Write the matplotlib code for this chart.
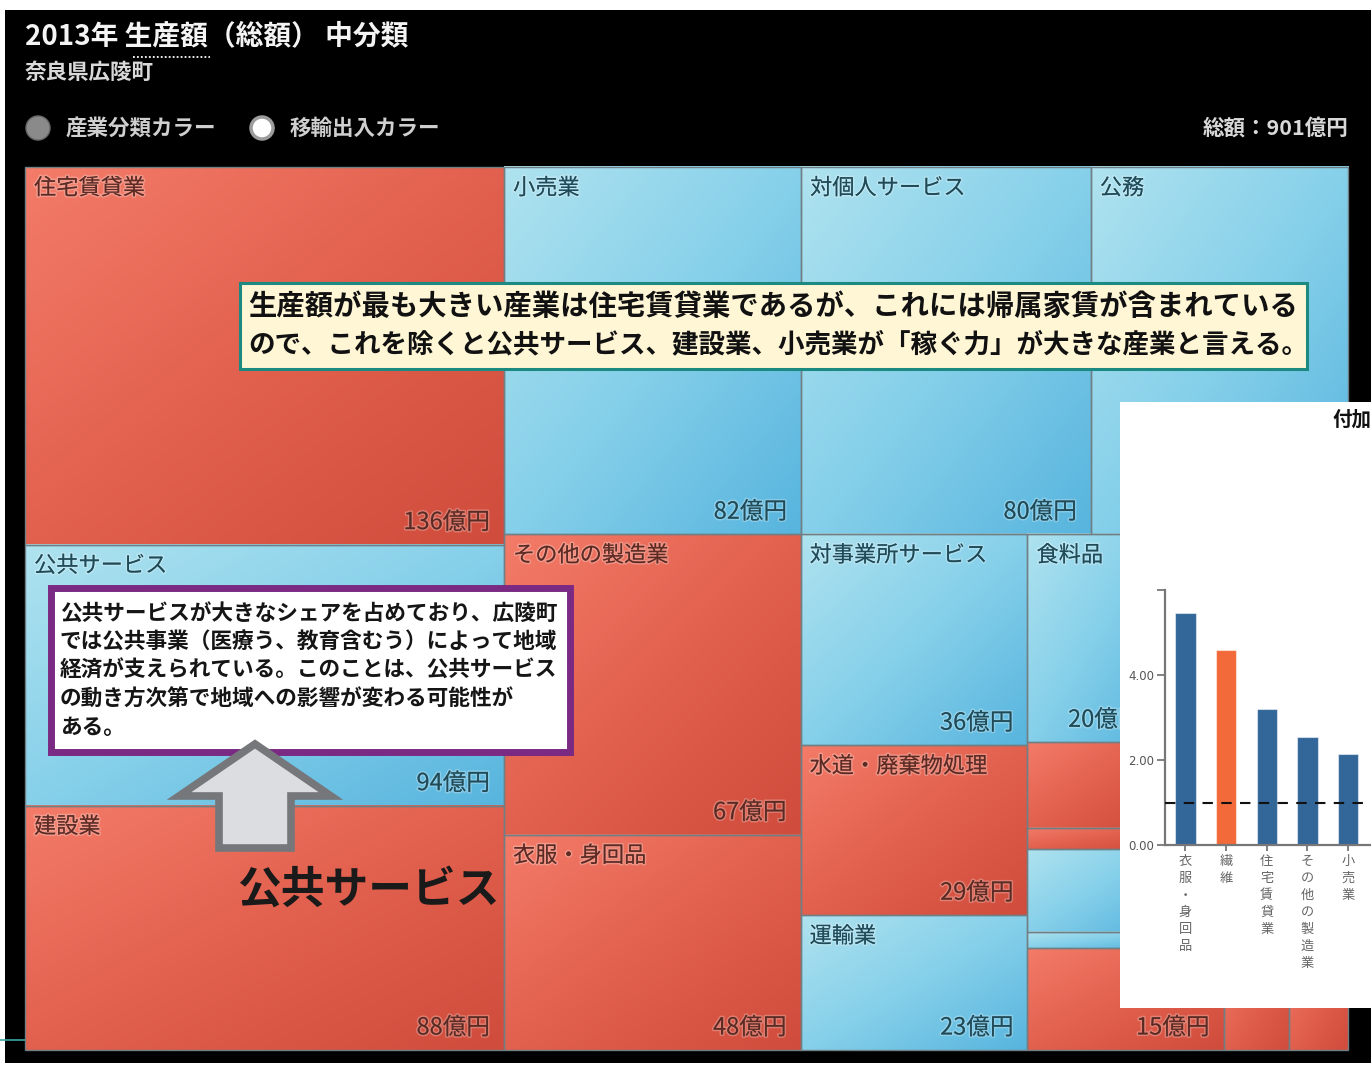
import numpy as np
import matplotlib
matplotlib.use("Agg")
import matplotlib.pyplot as plt
from matplotlib.patches import Rectangle, Polygon, Circle
from matplotlib.colors import LinearSegmentedColormap
import matplotlib.patheffects as pe

plt.rcParams['font.family'] = ['Noto Sans CJK JP', 'DejaVu Sans']

# ---------------------------------------------------------------
# 2013年 生産額（総額）中分類 — 奈良県広陵町（億円）, in strip order
# ---------------------------------------------------------------
industries = [
    '住宅賃貸業', '公共サービス', '建設業',
    '小売業', '対個人サービス', '公務',
    'その他の製造業', '衣服・身回品',
    '対事業所サービス', '水道・廃棄物処理', '運輸業',
    '金融・保険業', '電気業', '農業',
    '食料品', '卸売業', '石油・石炭製品', '情報通信業', '鉄鋼',
    '繊維', '不動産仲介業', 'パルプ・紙',
    '化学', 'プラスチック製品', 'ガス・熱供給業', '窯業・土石製品', '金属製品',
]
output_oku = [
    136, 94, 88,
    82, 80, 71,
    67, 48,
    36, 29, 23,
    15, 5, 4.5,
    20, 8.2, 2.1, 7.9, 1.6,
    13, 11, 9,
    8, 6, 5, 4, 4,
]
# 移輸出入の収支: 1 = 移輸出超過, -1 = 移輸入超過
trade_balance = [
    -1, 1, -1,
    1, 1, 1,
    -1, -1,
    1, -1, 1,
    -1, -1, -1,
    1, -1, -1, 1, 1,
    1, -1, 1,
    -1, 1, -1, -1, 1,
]
# treemap strips: (side of the remaining area, number of industries)
strip_plan = [('left', 3), ('top', 3), ('left', 2), ('left', 3),
              ('bottom', 3), ('left', 5), ('left', 3), ('left', 5)]
total_oku = 901

# 付加価値額 特化係数（上位業種）
spec_labels = ['衣服・身回品', '繊維', '住宅賃貸業', 'その他の製造業', '小売業']
spec_values = [5.45, 4.6, 3.2, 2.55, 2.15]
spec_highlight = [False, True, False, False, False]
spec_baseline = 1.0

NAME_MIN = 20  # industries below this size are shown without a name


def strip_layout(values, plan, x0, y0, x1, y1):
    """Cut the box into strips; each strip is split by its values."""
    rects = []
    i = 0
    remaining = float(sum(values))
    for side, n in plan:
        group = values[i:i + n]
        s = float(sum(group))
        frac = s / remaining
        if side == 'left':
            w = (x1 - x0) * frac
            yy = y0
            for v in group:
                h = (y1 - y0) * v / s
                rects.append((x0, yy, w, h))
                yy += h
            x0 += w
        else:
            h = (y1 - y0) * frac
            top = y0 if side == 'top' else y1 - h
            xx = x0
            for v in group:
                w = (x1 - x0) * v / s
                rects.append((xx, top, w, h))
                xx += w
            if side == 'top':
                y0 += h
            else:
                y1 -= h
        remaining -= s
        i += n
    return rects


fig = plt.figure(figsize=(13.71, 10.66), dpi=100, facecolor='white')
ax = fig.add_axes([0, 0, 1, 1])
ax.axis('off')

# dark panel
ax.add_patch(Rectangle((5, 10), 1366, 1053, facecolor='black', edgecolor='none', zorder=0))
ax.plot([0, 28], [1040, 1040], color='#3aa6a6', lw=1.2, zorder=0.5)

red_cmap = LinearSegmentedColormap.from_list('red_cell', ['#F37B68', '#E2604E', '#D04C3C'])
blue_cmap = LinearSegmentedColormap.from_list('blue_cell', ['#AEE2EF', '#86D0EA', '#58B5DE'])
grad = (np.linspace(0, 1, 40)[:, None] + np.linspace(0, 1, 40)[None, :]) / 2

rects = strip_layout(output_oku, strip_plan, 25, 167, 1348, 1050)
for name, val, bal, (x, y, w, h) in zip(industries, output_oku, trade_balance, rects):
    cmap = blue_cmap if bal > 0 else red_cmap
    ax.imshow(grad, extent=(x, x + w, y + h, y), cmap=cmap, vmin=0, vmax=1,
              interpolation='bilinear', aspect='auto', zorder=1)
    ax.add_patch(Rectangle((x, y), w, h, fill=False, edgecolor='#6f7f84',
                           lw=1.0, zorder=2))
    tcol = '#1f4a57' if bal > 0 else '#5c2a22'
    halo = [pe.withStroke(linewidth=2.2, foreground=(1, 1, 1, 0.25))]
    if val >= NAME_MIN:
        ax.text(x + 9, y + 21, name, fontsize=16, color=tcol, ha='left',
                va='center', zorder=3, path_effects=halo)
    if h >= 90 and w >= 90:
        vtxt = f'{val:g}億円'
        ax.text(x + w - 14, y + h - 22, vtxt, fontsize=17, color=tcol,
                ha='right', va='center', zorder=3, path_effects=halo)

# header
ax.text(25, 36, '2013年 生産額（総額） 中分類', fontsize=20, weight='bold',
        color='#f4f4f4', ha='left', va='center', zorder=5)
ax.plot([133, 210], [57, 57], color='white', lw=1.3, ls=(0, (1, 1.2)), zorder=5)
ax.text(25, 72, '奈良県広陵町', fontsize=15.5, weight='bold', color='#d9d9d9',
        ha='left', va='center', zorder=5)

# colour mode selector
ax.add_patch(Circle((38, 128), 12, facecolor='#8a8a8a', edgecolor='#6a6a6a', lw=1, zorder=5))
ax.text(66, 128, '産業分類カラー', fontsize=15.5, weight='bold', color='#cfcfcf',
        ha='left', va='center', zorder=5)
ax.add_patch(Circle((262, 128), 11, facecolor='white', edgecolor='#9c9c9c', lw=2.5, zorder=5))
ax.text(290, 128, '移輸出入カラー', fontsize=15.5, weight='bold', color='#cfcfcf',
        ha='left', va='center', zorder=5)
ax.text(1348, 128, f'総額：{total_oku}億円', fontsize=15.5, weight='bold',
        color='#d8d8d8', ha='right', va='center', zorder=5)

# callout: largest industry
ax.add_patch(Rectangle((239.5, 282.5), 1067, 86, facecolor='#FFF6D6',
                       edgecolor='#1c8a80', lw=2.2, zorder=6))
ax.text(248, 307, '生産額が最も大きい産業は住宅賃貸業であるが、これには帰属家賃が含まれている',
        fontsize=20.4, weight='bold', color='#111111', ha='left', va='center', zorder=7)
ax.text(248, 345, 'ので、これを除くと公共サービス、建設業、小売業が「稼ぐ力」が大きな産業と言える。',
        fontsize=19.1, weight='bold', color='#111111', ha='left', va='center', zorder=7)

# callout: public services
ax.add_patch(Rectangle((50.5, 587.5), 519, 164, facecolor='white',
                       edgecolor='#7b2a83', lw=5, zorder=6))
box2_lines = [
    '公共サービスが大きなシェアを占めており、広陵町',
    'では公共事業（医療う、教育含むう）によって地域',
    '経済が支えられている。このことは、公共サービス',
    'の動き方次第で地域への影響が変わる可能性が',
    'ある。',
]
for k, line in enumerate(box2_lines):
    ax.text(60, 614 + k * 28.3, line, fontsize=15.6, weight='bold',
            color='#151515', ha='left', va='center', zorder=7)

# up arrow
arrow = Polygon([(255, 744), (331, 796), (291, 796), (291, 848), (219, 848),
                 (219, 796), (179, 796)], closed=True, facecolor='#dcdde0',
                edgecolor='#76777b', lw=5.5, joinstyle='miter', zorder=8)
ax.add_patch(arrow)
ax.text(237, 890, '公共サービス', fontsize=31.5, weight='bold', color='#1a1a1a',
        ha='left', va='center', zorder=8)

# inset panel
ax.add_patch(Rectangle((1120, 402), 260, 606, facecolor='white', edgecolor='none', zorder=20))
ax.text(1332, 420, '付加', fontsize=14, weight='bold', color='#111111',
        ha='left', va='center', zorder=21)

ax.set_xlim(0, 1371)
ax.set_ylim(1066, 0)

# specialisation bar chart
px_w, px_h = 1371.0, 1066.0
step = 40.7
iax = fig.add_axes([1165 / px_w, (px_h - 845) / px_h, 10 * step / px_w, (845 - 590) / px_h])
iax.patch.set_alpha(0)
xs = np.arange(len(spec_values))
colors = ['#F26A3A' if hl else '#336699' for hl in spec_highlight]
iax.bar(xs, spec_values, width=0.5, color=colors, edgecolor=(1, 1, 1, 0.5), lw=0.8, zorder=2)
iax.axhline(spec_baseline, color='#111111', lw=1.5, ls=(0, (5, 4)), zorder=3)
iax.set_xlim(-0.5, 9.5)
iax.set_ylim(0, 6)
iax.set_yticks([0, 2, 4, 6])
iax.set_yticklabels(['0.00', '2.00', '4.00', ''], family='DejaVu Sans', fontsize=8.5, color='#555555')
iax.set_xticks(xs)
iax.set_xticklabels(['\n'.join(s) for s in spec_labels], fontsize=9.5, color='#666666',
                    linespacing=1.4, va='top')
for side in ('top', 'right'):
    iax.spines[side].set_visible(False)
for side in ('left', 'bottom'):
    iax.spines[side].set_color('#777777')
    iax.spines[side].set_linewidth(1.6)
iax.tick_params(axis='y', length=6, width=1.3, color='#777777', pad=2)
iax.tick_params(axis='x', length=4, width=1.3, color='#777777', pad=3)

fig.savefig('out.png', dpi=100, facecolor='white')
